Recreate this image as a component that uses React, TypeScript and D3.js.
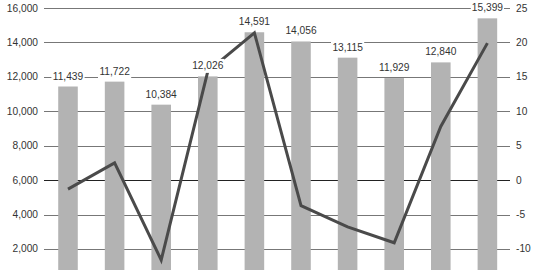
import React from "react";
import * as d3 from "d3";

const categories = ["1", "2", "3", "4", "5", "6", "7", "8", "9", "10"];
const barValues = [11439, 11722, 10384, 12026, 14591, 14056, 13115, 11929, 12840, 15399];
const lineValues = [-1.3, 2.5, -11.6, 15.8, 21.4, -3.7, -6.8, -9.1, 7.8, 19.9];
const leftTicks = [2000, 4000, 6000, 8000, 10000, 12000, 14000, 16000];
const rightTicks = [-10, -5, 0, 5, 10, 15, 20, 25];

const W = 550;
const H = 270;
const FONT = "'Liberation Sans', Arial, sans-serif";

export default function App() {
  const x = d3
    .scaleBand<string>()
    .domain(categories)
    .range([44.7, 510.7])
    .paddingInner(0.58)
    .paddingOuter(0.29);
  const yL = d3.scaleLinear().domain([0, 16000]).range([283.4, 8]);
  const yR = d3.scaleLinear().domain([-15, 25]).range([283.4, 8]);
  const fmt = d3.format(",");
  const cx = (c: string) => (x(c) as number) + x.bandwidth() / 2;

  const line = d3
    .line<number>()
    .x((_, i) => cx(categories[i]))
    .y((d) => yR(d));

  const charW = (s: string) =>
    s.split("").reduce((a, ch) => a + (ch === "," ? 2.78 : 5.56), 0);

  return (
    <svg
      width={W}
      height={H}
      style={{ position: "absolute", left: 0, top: 0, background: "#fff" }}
      fontFamily={FONT}
    >
      {rightTicks.map((t) => (
        <line
          key={"g" + t}
          x1={44}
          x2={510}
          y1={Math.round(yR(t)) + 0.5}
          y2={Math.round(yR(t)) + 0.5}
          stroke={t === 0 ? "#222" : "#777"}
          strokeWidth={1}
        />
      ))}
      {leftTicks.map((t) => (
        <text
          key={"l" + t}
          x={38}
          y={yL(t)}
          textAnchor="end"
          dominantBaseline="central"
          fontSize={10.2}
          fill="#333"
        >
          {fmt(t)}
        </text>
      ))}
      {rightTicks.map((t) => (
        <text
          key={"r" + t}
          x={516}
          y={yR(t)}
          textAnchor="start"
          dominantBaseline="central"
          fontSize={10.2}
          fill="#333"
        >
          {t}
        </text>
      ))}
      {barValues.map((v, i) => (
        <rect
          key={"b" + i}
          x={x(categories[i])}
          y={yL(v)}
          width={x.bandwidth()}
          height={yL(0) - yL(v)}
          fill="#b3b3b3"
        />
      ))}
      <path
        d={line(lineValues) || ""}
        fill="none"
        stroke="#4a4a4a"
        strokeWidth={3}
        strokeLinejoin="miter"
      />
      {barValues.map((v, i) => {
        const s = fmt(v);
        const w = charW(s) * (10.2 / 10);
        const cy = yL(v) - 10.5;
        const c = cx(categories[i]);
        return (
          <g key={"t" + i}>
            <rect x={c - w / 2 - 1} y={cy - 7} width={w + 2} height={14} fill="#fff" />
            <text
              x={c}
              y={cy}
              textAnchor="middle"
              dominantBaseline="central"
              fontSize={10.2}
              fill="#333"
            >
              {s}
            </text>
          </g>
        );
      })}
    </svg>
  );
}
